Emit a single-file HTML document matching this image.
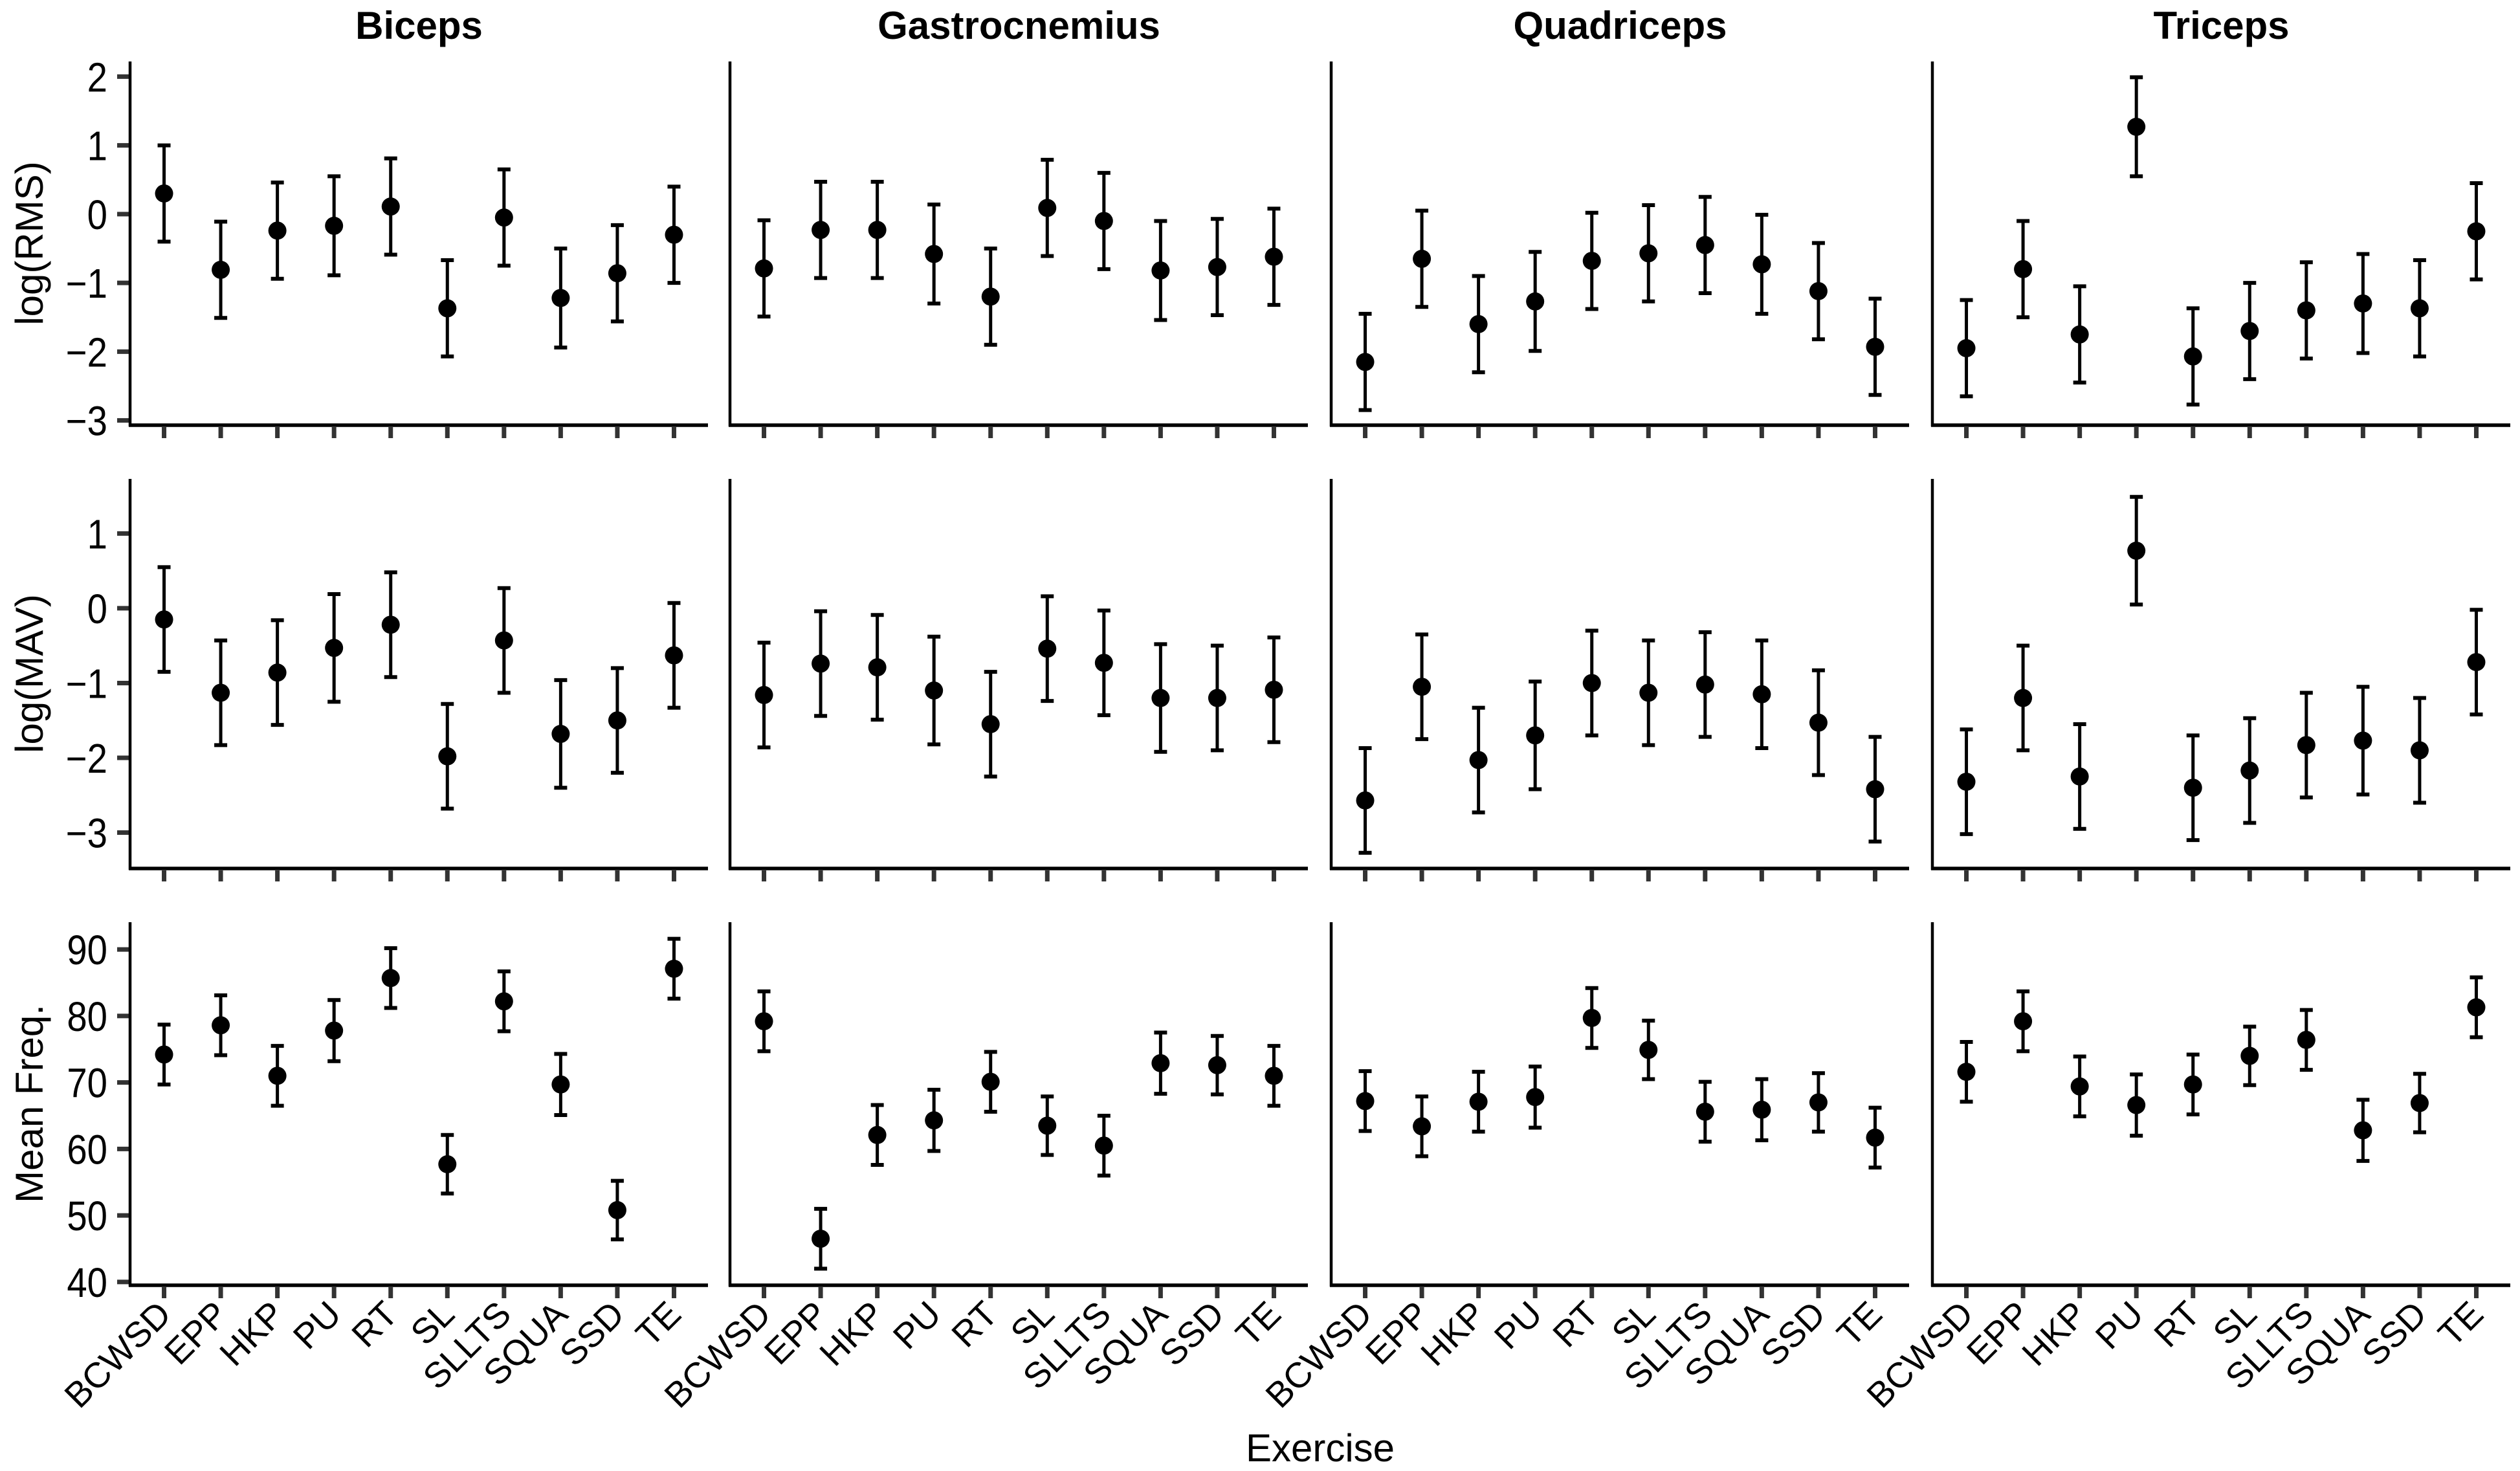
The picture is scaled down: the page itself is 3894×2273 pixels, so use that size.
<!DOCTYPE html>
<html><head><meta charset="utf-8"><style>
html,body{margin:0;padding:0;background:#fff;}
svg{display:block;font-family:"Liberation Sans",Arial,sans-serif;}
</style></head><body>
<svg id="chart" width="3894" height="2273" viewBox="0 0 3894 2273" xmlns="http://www.w3.org/2000/svg"></svg>
<script>
const categories = ["BCWSD","EPP","HKP","PU","RT","SL","SLLTS","SQUA","SSD","TE"];
const muscles = ["Biceps","Gastrocnemius","Quadriceps","Triceps"];
const metrics = ["log(RMS)","log(MAV)","Mean Freq."];
const rmsTicks = [-3,-2,-1,0,1,2];
const mavTicks = [-3,-2,-1,0,1];
const mfTicks = [40,50,60,70,80,90];
const rmsBiceps = [0.30,-0.81,-0.24,-0.17,0.11,-1.37,-0.05,-1.22,-0.86,-0.30];
const rmsGastro = [-0.79,-0.23,-0.23,-0.58,-1.20,0.09,-0.10,-0.82,-0.77,-0.62];
const rmsQuad = [-2.15,-0.65,-1.60,-1.27,-0.68,-0.57,-0.45,-0.73,-1.12,-1.93];
const rmsTriceps = [-1.95,-0.80,-1.75,1.27,-2.07,-1.70,-1.40,-1.30,-1.37,-0.25];
const mavBiceps = [-0.15,-1.13,-0.86,-0.53,-0.22,-1.98,-0.43,-1.68,-1.50,-0.63];
const mavGastro = [-1.16,-0.74,-0.79,-1.10,-1.55,-0.54,-0.73,-1.20,-1.20,-1.09];
const mavQuad = [-2.57,-1.05,-2.03,-1.70,-1.00,-1.13,-1.02,-1.15,-1.53,-2.42];
const mavTriceps = [-2.32,-1.20,-2.25,0.77,-2.40,-2.17,-1.83,-1.77,-1.90,-0.72];
const mfBiceps = [74.2,78.6,71.0,77.8,85.7,57.7,82.2,69.7,50.8,87.1];
const mfGastro = [79.2,46.5,62.1,64.3,70.1,63.5,60.5,72.9,72.6,71.0];
const mfQuad = [67.2,63.4,67.1,67.8,79.7,74.9,65.6,65.9,67.0,61.7];
const mfTriceps = [71.6,79.2,69.4,66.6,69.7,74.0,76.4,62.8,66.9,81.3];
const rmsHalf = [0.70,0.70,0.70,0.72,0.70,0.70,0.70,0.72,0.70,0.70];
const mavHalf = [0.70,0.70,0.70,0.72,0.70,0.70,0.70,0.72,0.70,0.70];
const mfHalf = [4.5,4.5,4.5,4.6,4.5,4.4,4.5,4.6,4.4,4.5];

const svg = document.getElementById('chart');
const NS = "http://www.w3.org/2000/svg";
function mk(tag, attrs, parent){ const e=document.createElementNS(NS,tag); for(const k in attrs) e.setAttribute(k,attrs[k]); (parent||svg).appendChild(e); return e; }

const panelLeft = [201,1128,2057,2986];
const panelW = 893;
const rows = [
  {top:95, bottom:657, vmin:-3.07, vmax:2.22, ticks:rmsTicks, data:[rmsBiceps,rmsGastro,rmsQuad,rmsTriceps], half:rmsHalf},
  {top:740, bottom:1342, vmin:-3.48, vmax:1.73, ticks:mavTicks, data:[mavBiceps,mavGastro,mavQuad,mavTriceps], half:mavHalf},
  {top:1425, bottom:1986, vmin:39.5, vmax:94.1, ticks:mfTicks, data:[mfBiceps,mfGastro,mfQuad,mfTriceps], half:mfHalf}
];
function xScale(p, i){ return panelLeft[p] + (i + 0.6) * panelW / 10.2; }
function yScale(r, v){ const R=rows[r]; return R.bottom - (v - R.vmin)/(R.vmax - R.vmin)*(R.bottom - R.top); }

muscles.forEach((m,p)=>{
  const t = mk('text',{x:panelLeft[p]+panelW/2, y:60, 'text-anchor':'middle','font-size':60,'font-weight':'bold',fill:'#000'});
  
  
  t.textContent = m;
});

rows.forEach((R,r)=>{
  const yt = mk('text',{x:0,y:0,'text-anchor':'middle','font-size':60,fill:'#000',transform:`translate(66,${(R.top+R.bottom)/2}) rotate(-90)`});
  
  
  yt.textContent = metrics[r];
  R.ticks.forEach(tv=>{
    const y = yScale(r,tv);
    const tk = mk('line',{x1:181,x2:201,y1:y,y2:y,stroke:'#333','stroke-width':7});
    
    
    const lb = mk('text',{x:0,y:0,'text-anchor':'end','font-size':64,fill:'#000',transform:`translate(166,${y+23}) scale(0.88,1)`});
    
    
    lb.textContent = tv < 0 ? '\u2212' + Math.abs(tv) : String(tv);
  });
  muscles.forEach((m,p)=>{
    const L = panelLeft[p];
    const ax = mk('line',{x1:L,x2:L,y1:R.top,y2:R.bottom+2,stroke:'#000','stroke-width':4.5});
    
    
    const bx = mk('line',{x1:L-2,x2:L+panelW,y1:R.bottom,y2:R.bottom,stroke:'#000','stroke-width':5.5});
    
    
    categories.forEach((c,i)=>{
      const x = xScale(p,i);
      const tk = mk('line',{x1:x,x2:x,y1:R.bottom+3,y2:R.bottom+20,stroke:'#333','stroke-width':7});
      
      
      const v = R.data[p][i], h = R.half[i];
      const yT = yScale(r, v+h), yB = yScale(r, v-h), yM = yScale(r, v);
      const g = mk('g',{});
      
      
      mk('line',{x1:x,x2:x,y1:yT,y2:yB,stroke:'#000','stroke-width':5},g);
      mk('line',{x1:x-10,x2:x+10,y1:yT,y2:yT,stroke:'#000','stroke-width':6},g);
      mk('line',{x1:x-10,x2:x+10,y1:yB,y2:yB,stroke:'#000','stroke-width':6},g);
      const pt = mk('circle',{cx:x,cy:yM,r:14,fill:'#000'},g);
      
      
      if (r === 2) {
        const ax0 = x + 14, ay0 = 2034;
        const lb = mk('text',{x:ax0,y:ay0,'text-anchor':'end','font-size':55,fill:'#000',transform:`rotate(-45 ${ax0} ${ay0})`});
        
        
        lb.textContent = c;
      }
    });
  });
});
const xt = mk('text',{x:(201+3879)/2, y:2258,'text-anchor':'middle','font-size':60,fill:'#000'});


xt.textContent = 'Exercise';
</script>
</body></html>
